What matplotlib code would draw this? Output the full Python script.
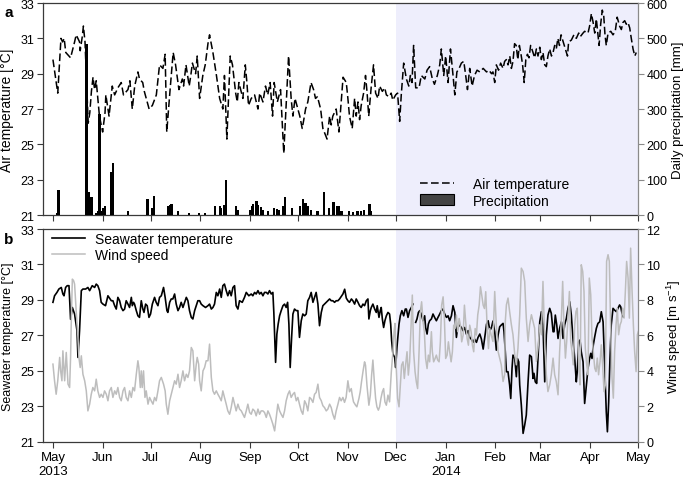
import numpy as np
import matplotlib
matplotlib.use("Agg")
import matplotlib.pyplot as plt
from matplotlib.patches import Patch
from matplotlib.lines import Line2D

plt.rcParams['font.family'] = ['Liberation Sans', 'DejaVu Sans']
plt.rcParams['mathtext.fontset'] = 'custom'
plt.rcParams['mathtext.rm'] = 'Liberation Sans'
plt.rcParams['mathtext.it'] = 'Liberation Sans:italic'

# ---------------- data (x = days since 2013-05-01) ----------------
START = np.datetime64('2013-05-01')
SHADE_START = np.datetime64('2013-12-01')
END = np.datetime64('2014-05-01')
TICK_LABELS = ['May\n2013', 'Jun', 'Jul', 'Aug', 'Sep', 'Oct', 'Nov', 'Dec',
               'Jan\n2014', 'Feb', 'Mar', 'Apr', 'May']

AIR_TEMPERATURE = [
    (0, 29.8), (3, 27.9), (5, 31.0), (6, 30.8), (7, 31.0), (8, 30.2), (11, 29.9), (13.5, 30.8),
    (14.5, 31.2), (16.6, 30.8), (17, 30.3), (18.3, 31.1), (19, 31.7), (20, 30.8), (22, 26.2),
    (23, 26.8), (24, 28.0), (25, 28.8), (26, 28.1), (27, 28.6), (28, 27.6), (29, 26.6), (31, 25.7),
    (32.5, 26.8), (33, 27.8), (35, 26.6), (37, 28.3), (38.5, 27.8), (40.5, 28.2), (42.6, 28.5),
    (44, 27.8), (46.8, 28.1), (48, 28.6), (49.5, 27.0), (51, 28.3), (53, 29.1), (54, 28.7),
    (56, 28.5), (57, 28.0), (60, 27.0), (62, 27.2), (64.5, 27.8), (66.5, 29.5), (68.6, 29.3),
    (70, 30.1), (71, 25.7), (73, 28.0), (75, 30.2), (76.5, 29.5), (78.6, 28.1), (80.7, 28.7),
    (81.5, 28.3), (83, 29.5), (85, 28.3), (86, 28.9), (87, 29.6), (89, 29.0), (90, 30.0),
    (91.5, 27.6), (93.5, 28.9), (95, 29.5), (96.7, 30.7), (97.7, 31.2), (99.8, 30.2), (102, 28.9),
    (104, 27.6), (106, 27.0), (107, 28.9), (108.5, 25.3), (110.6, 30.0), (112, 29.5), (114, 27.9),
    (115, 27.4), (116, 28.5), (118.5, 27.6), (120, 29.5), (121, 28.5), (122, 27.2), (123.7, 27.6),
    (125.8, 27.8), (127.9, 27.0), (129, 27.9), (131, 27.4), (132.6, 28.3), (134, 27.8),
    (135.5, 28.5), (137, 26.6), (138, 28.5), (140, 27.4), (142, 28.1), (144, 24.5), (145.5, 27.2),
    (147, 30.0), (148.6, 27.6), (149.7, 26.6), (151, 27.6), (152.8, 27.0), (154, 26.6),
    (155.5, 25.9), (156.5, 26.4), (157.6, 27.0), (159, 27.4), (161, 28.5), (162.6, 28.1),
    (163.8, 27.6), (165, 27.7), (167, 27.0), (168.4, 25.9), (171, 25.3), (172.6, 26.6),
    (173.6, 26.1), (174.6, 26.6), (176.7, 27.0), (178.4, 25.7), (180, 27.6), (181, 28.8),
    (183, 28.5), (184, 27.6), (185, 26.6), (186.7, 25.9), (188.2, 27.6), (189.2, 26.6),
    (190.3, 27.4), (191.3, 26.4), (192.3, 27.2), (193.8, 27.9), (195, 28.9), (196, 27.9),
    (197, 26.6), (198.6, 28.3), (200, 29.5), (201.3, 27.9), (202.8, 27.6), (203.8, 28.3),
    (205.5, 28.0), (207, 28.2), (208, 27.8), (209.6, 27.7), (211, 27.9), (212, 27.5),
    (213.8, 27.8), (215, 27.9), (216.3, 26.3), (217.3, 27.8), (218.8, 29.6), (220.5, 28.7),
    (222, 28.3), (223, 28.9), (224, 28.5), (225, 30.6), (226.3, 28.2), (228.4, 28.2),
    (229.8, 28.9), (232, 28.7), (233.4, 29.2), (235, 29.4), (236.7, 28.7), (238, 28.4),
    (239.8, 28.9), (241.3, 29.5), (242.3, 30.4), (243.8, 28.9), (245, 30.0), (246.5, 28.5),
    (248, 30.4), (249.6, 28.9), (250.7, 27.8), (252, 29.1), (253.4, 29.3), (254.8, 29.6),
    (256.3, 29.7), (257.5, 28.9), (258.6, 28.1), (260, 29.3), (261.5, 28.3), (263, 28.9),
    (264.6, 29.2), (266.3, 29.1), (268.4, 29.3), (270.5, 29.1), (272, 29.2), (273.6, 29.0),
    (274.5, 29.1), (275.6, 28.5), (276.6, 29.5), (278, 29.2), (279.3, 29.6), (280.8, 29.3),
    (281.8, 29.7), (282.9, 29.8), (283.9, 29.5), (285, 30.0), (286, 29.3), (287, 29.7),
    (288, 30.7), (289, 30.6), (290, 29.8), (291, 30.6), (292, 30.1), (293, 29.5), (294, 28.5),
    (295, 29.8), (296, 30.1), (297, 29.9), (298, 30.6), (299.5, 30.2), (300.5, 29.9),
    (301.6, 30.4), (302.6, 30.0), (303.7, 30.5), (304.7, 29.8), (305.7, 30.2), (306.8, 29.5),
    (307.8, 29.4), (308.8, 30.0), (309.9, 30.4), (311, 30.0), (312, 30.2), (313, 30.6),
    (314, 30.4), (315, 31.0), (316, 30.6), (317, 31.2), (318, 30.9), (319.7, 30.4), (321, 30.0),
    (321.7, 30.8), (323.4, 30.9), (325, 31.2), (326.5, 31.0), (328, 31.3), (329, 31.1),
    (330.7, 31.3), (331.7, 31.4), (333.8, 31.3), (334.8, 31.7), (335.9, 32.4), (337, 31.9),
    (338, 31.3), (339, 32.1), (340, 31.2), (340.7, 30.6), (341.7, 31.8), (342.7, 32.6),
    (343.6, 32.3), (344.4, 31.2), (345.2, 30.6), (346.3, 31.3), (348, 31.4), (349.4, 31.2),
    (350.8, 31.4), (352, 32.2), (353.5, 31.7), (354.6, 31.5), (355.6, 31.9), (356.7, 32.0),
    (357.7, 31.8), (358.7, 31.9), (359.8, 31.6), (360.8, 31.0), (361.9, 30.4), (363, 30.0),
    (363.9, 30.2),
]

PRECIPITATION = [
    (2.5, 5), (3.5, 71), (21, 484), (22.5, 66), (24, 50), (27, 5), (28, 10), (29, 286), (30, 12),
    (31, 20), (32.4, 26), (36.5, 123), (37.4, 146), (47, 12), (59, 45), (62, 20), (63, 55),
    (72, 25), (73, 28), (74, 30), (78, 10), (85, 5), (91, 5), (95, 5), (101, 25), (104, 25),
    (105, 20), (107, 28), (108, 99), (114, 25), (115.4, 15), (123, 15), (124, 25), (125, 30),
    (127, 40), (128, 28), (130, 22), (131, 15), (134, 10), (138, 20), (140, 18), (141, 15),
    (143.5, 25), (145, 50), (149, 20), (154, 25), (156, 45), (157.5, 35), (159, 25), (161, 15),
    (165, 12), (169, 66), (172, 20), (175, 38), (177, 25), (178.5, 25), (180, 12), (184.6, 12),
    (187, 8), (190, 10), (192, 12), (194, 15), (197.5, 31), (198.6, 10),
]

SEAWATER_TEMPERATURE = [
    (0, 28.86), (1, 29.23), (2.5, 29.42), (3.7, 29.61), (5.2, 29.70), (6.2, 29.33), (6.9, 29.23),
    (7.9, 29.70), (8.9, 29.80), (10, 29.80), (11, 27.9), (12.1, 28.57), (13.5, 28.2),
    (15, 27.26), (15.6, 25.75), (16.6, 27.26), (17.7, 29.52), (18.7, 29.61), (20.4, 29.61),
    (21.8, 29.70), (22.9, 29.52), (24.5, 29.80), (26, 29.70), (27, 29.89), (28, 29.80),
    (29.1, 29.52), (30.1, 28.86), (31.2, 28.76), (32.8, 28.67), (34.3, 29.23), (36.4, 28.95),
    (37.4, 28.95), (38.5, 28.67), (39.5, 28.48), (40.5, 29.14), (41.6, 28.95), (42.6, 28.57),
    (43.7, 28.39), (44.7, 28.48), (45.7, 28.95), (46.8, 28.76), (47.8, 28.57), (48.9, 29.14),
    (49.5, 28.67), (50.3, 28.86), (50.9, 28.76), (52, 28.39), (53, 28.10), (54, 28.01),
    (55.1, 28.95), (56.1, 28.48), (56.8, 28.29), (57.8, 28.76), (58.8, 28.67), (59.9, 28.01),
    (60.9, 28.20), (62, 28.76), (63.4, 29.14), (64.4, 28.86), (65.5, 28.67), (66.5, 29.14),
    (67.6, 29.23), (69, 29.70), (70, 29.14), (71.1, 28.39), (71.7, 28.29), (72.8, 28.86),
    (73.8, 29.05), (74.8, 29.05), (75.9, 29.33), (76.9, 28.76), (78, 28.39), (79, 28.57),
    (80, 28.86), (81.1, 28.57), (83.2, 29.14), (84.2, 28.95), (85.2, 28.39), (86.3, 28.01),
    (87.3, 27.92), (88.4, 28.39), (89.4, 28.67), (90.4, 28.95), (91.5, 28.95), (92.5, 28.76),
    (93.6, 28.67), (95.2, 28.57), (96.7, 28.67), (97.7, 28.76), (98.8, 28.48), (99.8, 28.57),
    (100.8, 28.76), (101.9, 29.42), (102.9, 29.23), (104, 29.61), (105, 29.14), (106, 29.80),
    (107, 29.89), (108.1, 29.52), (109.1, 29.23), (110.2, 29.52), (111.2, 29.23), (112.3, 29.70),
    (113.3, 29.80), (114.3, 28.67), (115.4, 28.48), (116.4, 28.95), (118.1, 28.86),
    (119.5, 29.14), (120.6, 29.42), (122.2, 29.23), (123.7, 29.33), (124.7, 29.23),
    (125.8, 29.42), (126.8, 29.33), (127.9, 29.52), (128.9, 29.33), (129.9, 29.42),
    (131, 29.23), (132, 29.42), (133.1, 29.42), (134.1, 29.33), (135.1, 29.52), (136.2, 29.33),
    (137.2, 29.42), (137.8, 28.29), (138.9, 25.47), (139.7, 27.07), (140.5, 27.63),
    (141.4, 28.10), (142.4, 28.39), (143.5, 28.67), (144.5, 28.76), (145.5, 28.57),
    (146.4, 28.86), (147.2, 27.63), (148, 25.18), (148.9, 26.88), (149.7, 28.20), (150.7, 28.48),
    (151.8, 28.39), (152.8, 28.39), (153.8, 26.88), (154.9, 27.82), (155.9, 28.20), (157, 28.10),
    (158, 28.20), (159, 28.95), (160.1, 29.14), (161.1, 29.42), (162.2, 28.86), (163.2, 29.14),
    (164.2, 29.42), (165.3, 28.76), (166.3, 27.54), (167.4, 28.29), (168.4, 28.67),
    (169.4, 28.76), (170.5, 28.86), (171.5, 28.95), (172.6, 29.05), (173.6, 28.95),
    (174.6, 28.95), (175.7, 28.86), (176.7, 28.95), (177.8, 28.95), (178.8, 29.05),
    (180.9, 29.33), (182, 29.6), (183, 29.1), (184, 28.95), (185, 28.86), (186.2, 29.05),
    (187.1, 28.95), (188.2, 28.76), (189.2, 29.05), (190.3, 28.86), (191.3, 28.67),
    (192.3, 28.57), (193.4, 28.76), (194.4, 28.67), (195.5, 28.95), (196.5, 29.05),
    (197.1, 27.92), (198, 28.39), (198.6, 28.57), (199.6, 28.76), (200.7, 28.48), (201.7, 28.29),
    (202.3, 28.67), (203.4, 28.01), (204.2, 28.39), (204.8, 28.57), (205.5, 27.92),
    (206.3, 27.44), (207.1, 27.82), (208, 28.10), (209, 28.29), (210, 28.20), (210.7, 27.63),
    (211.3, 26.69), (212.1, 25.94), (213.2, 25.75), (213.8, 25.18), (214.6, 26.31),
    (215.9, 27.63), (216.7, 28.10), (217.7, 28.39), (218.8, 28.10), (219.8, 28.48),
    (220.5, 28.48), (221.5, 28.01), (222.5, 28.39), (223.6, 28.57), (224.6, 28.76),
    (225.5, np.nan),
    (226.3, 27.73), (227.1, 27.92), (228, 28.29), (228.8, 28.39), (229.8, 28.20), (230.9, 27.82),
    (231.9, 28.10), (232.5, 27.44), (233.4, 27.07), (234.2, 27.63), (235, 27.82), (236.1, 27.92),
    (237.1, 28.20), (238.1, 28.01), (239.2, 27.82), (240.2, 28.01), (241.3, 28.20),
    (242.3, 28.39), (243.3, 28.48), (244.4, 28.20), (245.5, 28.01), (246.5, 28.10),
    (247.5, 27.82), (248.6, 28.10), (249.6, 28.67), (250.7, 28.29), (251.7, 26.88),
    (252.7, 27.63), (253.8, 27.54), (254.8, 27.44), (255.8, 27.26), (256.9, 27.44),
    (257.9, 27.07), (259, 27.26), (260, 26.88), (261, 26.78), (262.1, 26.60), (263.1, 26.78),
    (264.2, 26.60), (265.2, 26.88), (266.3, 27.07), (267.3, 26.78), (268.4, 26.22),
    (269.4, 26.88), (270.5, 27.63), (271.5, 27.82), (272.6, 27.26), (273.6, 27.44),
    (274.5, 27.8), (275.6, 27.20), (276.6, 26.16), (277.7, 27.01), (278.7, 27.48),
    (279.7, 27.58), (280.8, 27.67), (281.4, 27.20), (282.2, 26.07), (282.9, 24.94),
    (283.9, 24.94), (284.9, 24.19), (285.6, 23.43), (286.4, 25.13), (287, 25.88), (288.1, 25.69),
    (289.1, 24.66), (289.7, 25.69), (290.6, 25.50), (291.2, 24.19), (292.2, 23.06),
    (293.3, 21.46), (294.3, 21.93), (295.3, 22.49), (296.4, 24.37), (297.4, 25.88),
    (298.5, 25.79), (299.5, 24.56), (300.1, 24.85), (300.9, 24.37), (301.8, 24.28),
    (302.6, 25.69), (303.7, 27.76), (304.7, 28.33), (305.7, 27.58), (306.8, 24.37),
    (307.8, 27.01), (308.8, 28.14), (309.9, 28.52), (310.9, 28.24), (312, 27.20), (312.6, 27.20),
    (313.4, 28.14), (314.3, 27.58), (315.1, 26.82), (316.1, 27.39), (317.2, 27.76),
    (318.2, 26.82), (319.2, 27.58), (320.3, 27.95), (321.3, 28.52), (322.4, 28.89),
    (323.4, 28.14), (324.4, 26.82), (325.5, 25.69), (326.5, 24.37), (327.1, 24.94),
    (328, 26.63), (328.8, 26.73), (329.6, 26.07), (330.7, 25.50), (331.7, 23.15), (332.8, 24.19),
    (333.8, 25.13), (334.8, 25.69), (335.5, 25.98), (336.3, 25.69), (337.1, 26.45), (338, 26.92),
    (339, 27.39), (340, 27.67), (341.1, 27.76), (342.1, 28.33), (343.2, 27.76), (344.2, 25.32),
    (345.2, 22.68), (345.9, 21.55), (346.7, 23.24), (347.5, 25.69), (348.3, 27.58),
    (349.4, 28.52), (350.4, 28.42), (351.5, 28.33), (352.5, 28.52), (353.5, 28.71),
    (354.2, 28.61), (355, 28.24), (355.8, 28.05),
]

WIND_SPEED = [
    (0, 4.37), (1, 3.43), (2, 2.67), (3, 3.43), (4.2, 4.75), (4.8, 3.99), (5.6, 3.43), (6.2, 5.12),
    (7.3, 3.43), (8.3, 5.03), (9.4, 3.24), (10.4, 3.05), (11, 4.75), (11.4, 6.6), (12.1, 9.17),
    (12.9, 9.08), (13.5, 8.89), (14.5, 7.38), (15.6, 5.88), (16.2, 4.75), (17, 4.18),
    (17.7, 4.84), (18.7, 3.80), (19.8, 3.43), (20.8, 2.86), (21.8, 1.73), (22.9, 2.11),
    (23.9, 2.67), (24.9, 3.05), (26, 2.86), (27, 3.52), (28, 2.86), (29.1, 2.49), (30.1, 2.67),
    (31.2, 2.49), (32.2, 2.86), (33.3, 2.67), (34.3, 2.30), (35.3, 2.86), (36.4, 3.05),
    (37.4, 2.49), (38.5, 2.86), (39.5, 2.67), (40.5, 3.05), (41.6, 2.49), (42.6, 2.30),
    (43.7, 2.86), (44.7, 3.05), (45.7, 2.49), (46.8, 2.30), (47.8, 2.86), (48.9, 2.49),
    (49.9, 3.05), (50.9, 2.86), (52, 3.80), (53, 4.56), (53.6, 4.18), (54.5, 3.05), (55.1, 3.99),
    (55.7, 3.05), (56.5, 3.99), (57.4, 2.49), (58.2, 2.86), (59.3, 2.11), (60.3, 2.49),
    (61.3, 2.30), (62.4, 2.11), (63.4, 2.49), (64.4, 2.30), (65.5, 2.86), (66.5, 3.43),
    (67.6, 3.62), (69, 3.24), (70, 2.86), (70.7, 2.11), (71.7, 1.54), (72.8, 2.30), (73.8, 2.67),
    (74.8, 3.05), (75.9, 3.43), (76.9, 3.24), (78, 3.80), (79, 3.05), (80, 3.43), (81.1, 3.99),
    (82.1, 3.43), (83.2, 3.80), (84.2, 3.62), (85.2, 3.99), (86.3, 5.31), (87.3, 5.12),
    (88.4, 3.43), (89.4, 4.37), (90, 4.75), (90.9, 4.37), (91.5, 3.43), (92.5, 2.86),
    (93.6, 3.99), (94.6, 4.18), (95.6, 4.56), (96.7, 4.56), (97.7, 5.50), (98.8, 3.62),
    (99.8, 2.86), (100.8, 2.67), (101.9, 2.86), (102.9, 2.67), (104, 2.49), (105, 2.30),
    (106, 2.86), (107, 2.49), (108.1, 2.11), (109.1, 1.73), (110.2, 1.54), (111.2, 1.92),
    (112.3, 2.49), (113.3, 2.11), (114.3, 1.73), (115.4, 2.11), (116.4, 1.83), (117.5, 1.73),
    (118.5, 1.54), (119.5, 1.36), (120.6, 1.73), (121.6, 2.11), (122.7, 1.64), (123.7, 1.54),
    (124.7, 1.83), (125.8, 1.73), (126.8, 1.45), (127.9, 1.83), (128.9, 1.54), (129.9, 1.73),
    (131, 1.73), (132, 1.64), (133.1, 1.36), (134.1, 1.73), (135.1, 1.54), (136.2, 1.26),
    (137.2, 0.98), (138.3, 0.60), (139.3, 1.36), (140.3, 2.11), (141.4, 1.73), (142.4, 1.54),
    (143.5, 1.36), (144.5, 1.73), (145.5, 2.30), (146.6, 2.67), (147.6, 2.86), (148.6, 2.49),
    (149.7, 2.67), (150.7, 2.77), (151.8, 2.30), (152.8, 2.49), (153.8, 2.11), (154.9, 1.73),
    (155.9, 1.54), (157, 2.30), (158, 2.11), (159, 1.73), (160.1, 2.49), (161.1, 2.40),
    (162.2, 2.21), (163.2, 2.67), (164.2, 2.77), (165.3, 3.24), (166.3, 2.49), (167.4, 2.30),
    (168.4, 2.02), (169.4, 1.92), (170.5, 1.73), (171.5, 1.83), (172.6, 2.11), (173.6, 1.92),
    (174.6, 1.54), (175.7, 1.26), (176.7, 1.73), (177.8, 2.11), (178.8, 2.49), (179.8, 2.30),
    (180.9, 2.49), (181.9, 2.21), (182.9, 2.49), (184, 3.43), (185, 2.81), (186.1, 2.99),
    (186.7, 2.62), (187.5, 2.24), (188.8, 2.05), (189.6, 1.96), (190.9, 2.43), (191.7, 2.81),
    (192.5, 3.37), (193.4, 3.94), (194.4, 4.50), (195, 4.31), (195.9, 3.18), (196.5, 2.62),
    (197.1, 2.05), (198, 2.62), (198.8, 3.75), (199.6, 4.60), (200.5, 3.37), (201.3, 2.43),
    (202.1, 1.96), (203, 1.77), (203.8, 1.96), (204.6, 2.43), (205.5, 2.81), (206.3, 2.99),
    (207.1, 2.24), (208, 2.05), (209, 2.62), (210, 2.24), (211.1, 3.94), (212.1, 5.07),
    (212.8, 6.20), (213.4, 6.67), (214.2, 4.12), (215, 2.43), (215.9, 1.96), (216.7, 3.18),
    (217.5, 4.31), (218.4, 4.50), (219.2, 3.56), (220, 4.31), (220.9, 5.07), (221.7, 3.75),
    (222.5, 4.50), (223.4, 6.57), (224.2, 8.27), (225, 5.07), (225.9, 3.94), (226.7, 3.37),
    (227.5, 2.99), (228.4, 5.07), (229.2, 7.33), (230, 7.89), (230.9, 6.76), (231.7, 6.20),
    (232.5, 4.69), (233.4, 4.12), (234.2, 4.88), (235, 4.50), (236.1, 6.20), (236.7, 5.07),
    (237.5, 4.50), (238.4, 4.69), (239.2, 4.88), (240, 4.60), (240.9, 4.50), (241.7, 5.63),
    (242.5, 7.70), (243.4, 8.17), (244.2, 6.95), (245, 4.69), (245.9, 4.88), (246.7, 5.63),
    (247.5, 5.07), (248.4, 4.50), (249.2, 5.07), (250, 6.57), (250.9, 6.38), (251.7, 7.14),
    (252.5, 6.20), (253.4, 6.95), (254.2, 6.57), (255, 5.63), (255.9, 6.01), (256.7, 7.70),
    (257.5, 6.76), (258.4, 5.82), (259.2, 5.44), (260, 6.57), (260.9, 6.20), (261.7, 5.44),
    (262.5, 5.07), (263.4, 6.38), (264.2, 6.01), (265, 7.14), (265.9, 7.70), (266.7, 8.74),
    (267.5, 8.27), (268.4, 7.70), (269.2, 7.51), (270, 8.46), (270.9, 6.38), (271.7, 5.25),
    (272.5, 6.38), (273.4, 6.01), (274.5, 5.65), (275.6, 8.47), (276.6, 6.59), (277.7, 5.08),
    (278.7, 4.71), (279.7, 4.33), (280.8, 3.39), (281.8, 3.77), (282.2, 6.78), (282.9, 7.72),
    (283.9, 8.10), (284.9, 7.34), (286, 6.59), (287, 6.03), (288.1, 4.90), (289.1, 4.33),
    (290.1, 5.27), (291.2, 7.16), (292.2, 9.79), (293.3, 9.60), (294.3, 9.04), (295.3, 6.97),
    (296.4, 5.65), (297.4, 6.59), (298.5, 7.16), (299.5, 6.78), (300.5, 6.40), (301.6, 4.52),
    (302.6, 5.27), (303.7, 6.59), (304.7, 6.03), (305.7, 9.04), (306.8, 5.65), (307.8, 3.77),
    (308.8, 2.82), (309.9, 3.20), (310.9, 3.77), (312, 4.71), (313, 3.77), (314, 3.39),
    (315.1, 2.64), (316.1, 5.08), (317.2, 6.97), (318, 9.04), (318.8, 6.59), (319.7, 4.71),
    (320.5, 5.65), (321.3, 6.97), (322.2, 8.47), (323, 5.65), (323.8, 5.08), (324.6, 4.33),
    (325.5, 6.59), (326.3, 7.34), (327.1, 7.53), (328, 4.33), (328.8, 3.20), (329.6, 9.98),
    (330.5, 9.60), (331.3, 8.47), (332.1, 5.27), (333, 4.33), (333.8, 3.77), (334.6, 9.23),
    (335.5, 8.29), (336.3, 5.84), (337.1, 5.08), (338, 4.14), (338.8, 3.95), (339.6, 4.71),
    (340.4, 3.77), (341.3, 4.52), (342.1, 5.46), (342.9, 4.33), (343.8, 2.82), (344.6, 3.20),
    (345.4, 10.17), (346.3, 10.55), (347.1, 10.17), (347.9, 6.59), (348.8, 3.58), (349.6, 2.45),
    (350.4, 5.08), (351.3, 6.59), (352.1, 7.53), (352.9, 6.03), (353.8, 6.59), (354.6, 6.78),
    (355.4, 7.53), (356.3, 6.97), (357.1, 8.47), (357.9, 10.17), (358.8, 9.23), (359.6, 6.97),
    (360.4, 10.92), (361.3, 8.47), (362.1, 6.59), (362.9, 5.08), (363.8, 3.95), (364.6, 6.03),
    (365.2, 6.21),
]

# ---------------- styling ----------------
FS_TICK = 9
FS_XTICK = 9.5
FS_LABEL = 9.5
FS_LEGEND = 10
SPINE = '#3a3a3a'
RIGHT_SPINE = '#8a8a8a'
SHADE = '#EEEEFC'

air_d, air_t = np.array(AIR_TEMPERATURE, dtype=float).T
pr_d, pr_v = np.array(PRECIPITATION, dtype=float).T
sw_d, sw_t = np.array(SEAWATER_TEMPERATURE, dtype=float).T
wd_d, wd_v = np.array(WIND_SPEED, dtype=float).T

months = np.arange('2013-05', '2014-06', dtype='datetime64[M]').astype('datetime64[D]')
tick_pos = (months - START).astype(int)
shade_x0 = int((SHADE_START - START).astype(int))
end_x = int((END - START).astype(int))
xlim = (-6.2, end_x)

fig = plt.figure(figsize=(6.87, 4.81), dpi=100)
ax1 = fig.add_axes([0.0626, 0.5509, 0.8661, 0.4407])
ax2 = fig.add_axes([0.0626, 0.0800, 0.8661, 0.4418])


def style_main(ax):
    ax.set_xlim(*xlim)
    ax.set_ylim(21, 33)
    ax.set_yticks(np.arange(21, 34, 2))
    ax.set_xticks(tick_pos)
    ax.axvspan(shade_x0, end_x, color=SHADE, lw=0, zorder=0)
    for s in ['left', 'top', 'bottom']:
        ax.spines[s].set_color(SPINE)
        ax.spines[s].set_linewidth(0.9)
    ax.spines['right'].set_visible(False)
    ax.tick_params(axis='both', direction='out', length=4, width=0.8, color=SPINE,
                   labelsize=FS_TICK, pad=2)


def style_twin(ax):
    for s in ['left', 'top', 'bottom']:
        ax.spines[s].set_visible(False)
    ax.spines['right'].set_color(RIGHT_SPINE)
    ax.spines['right'].set_linewidth(0.9)
    ax.tick_params(axis='y', direction='out', length=4, width=0.8, color=RIGHT_SPINE,
                   labelsize=FS_TICK, pad=2)


# ---- panel a ----
style_main(ax1)
ax1.set_xticklabels([])
ax1.plot(air_d, air_t, color='black', lw=1.1, dashes=(5, 2.2), zorder=3)
ax1.set_ylabel('Air temperature [°C]', fontsize=FS_LABEL + 0.5, labelpad=5)

ax1r = ax1.twinx()
style_twin(ax1r)
ax1r.bar(pr_d, pr_v, width=1.4, color='black', lw=0)
ax1r.set_ylim(0, 600)
ax1r.set_yticks(np.arange(0, 601, 100))
ax1r.set_ylabel('Daily precipitation [mm]', fontsize=FS_LABEL, labelpad=3)

h_air = Line2D([], [], color='black', lw=1.1, dashes=(5, 2.2))
h_pr = Patch(facecolor='#444444', edgecolor='black', lw=0.8)
ax1r.legend([h_air, h_pr], ['Air temperature', 'Precipitation'], loc='lower left',
            bbox_to_anchor=(0.634, 0.035), frameon=False, fontsize=FS_LEGEND,
            borderpad=0, borderaxespad=0, handlelength=2.4, handletextpad=1.4,
            labelspacing=0.2, handleheight=0.8)

# ---- panel b ----
style_main(ax2)
ax2.set_xticklabels(TICK_LABELS, fontsize=FS_XTICK)
ax2.tick_params(axis='x', pad=3)
ax2.plot(sw_d, sw_t, color='black', lw=1.2, zorder=3)
ax2.set_ylabel('Seawater temperature [°C]', fontsize=9, labelpad=5)

ax2r = ax2.twinx()
style_twin(ax2r)
ax2r.plot(wd_d, wd_v, color='#BDBDBD', lw=1.1)
ax2r.set_ylim(0, 12)
ax2r.set_yticks(np.arange(0, 13, 2))
ax2r.set_ylabel('Wind speed [m s$^{-1}$]', fontsize=FS_LABEL, labelpad=3)

h_sw = Line2D([], [], color='black', lw=1.2)
h_wd = Line2D([], [], color='#BDBDBD', lw=1.1)
ax2r.legend([h_sw, h_wd], ['Seawater temperature', 'Wind speed'], loc='upper left',
            bbox_to_anchor=(0.015, 0.985), frameon=False, fontsize=FS_LEGEND,
            borderpad=0, borderaxespad=0, handlelength=2.4, handletextpad=0.7,
            labelspacing=0.15)

fig.text(0.006, 0.972, 'a', fontsize=11, fontweight='bold', va='center', ha='left')
fig.text(0.006, 0.500, 'b', fontsize=11, fontweight='bold', va='center', ha='left')

fig.savefig('out.png', dpi=100)
